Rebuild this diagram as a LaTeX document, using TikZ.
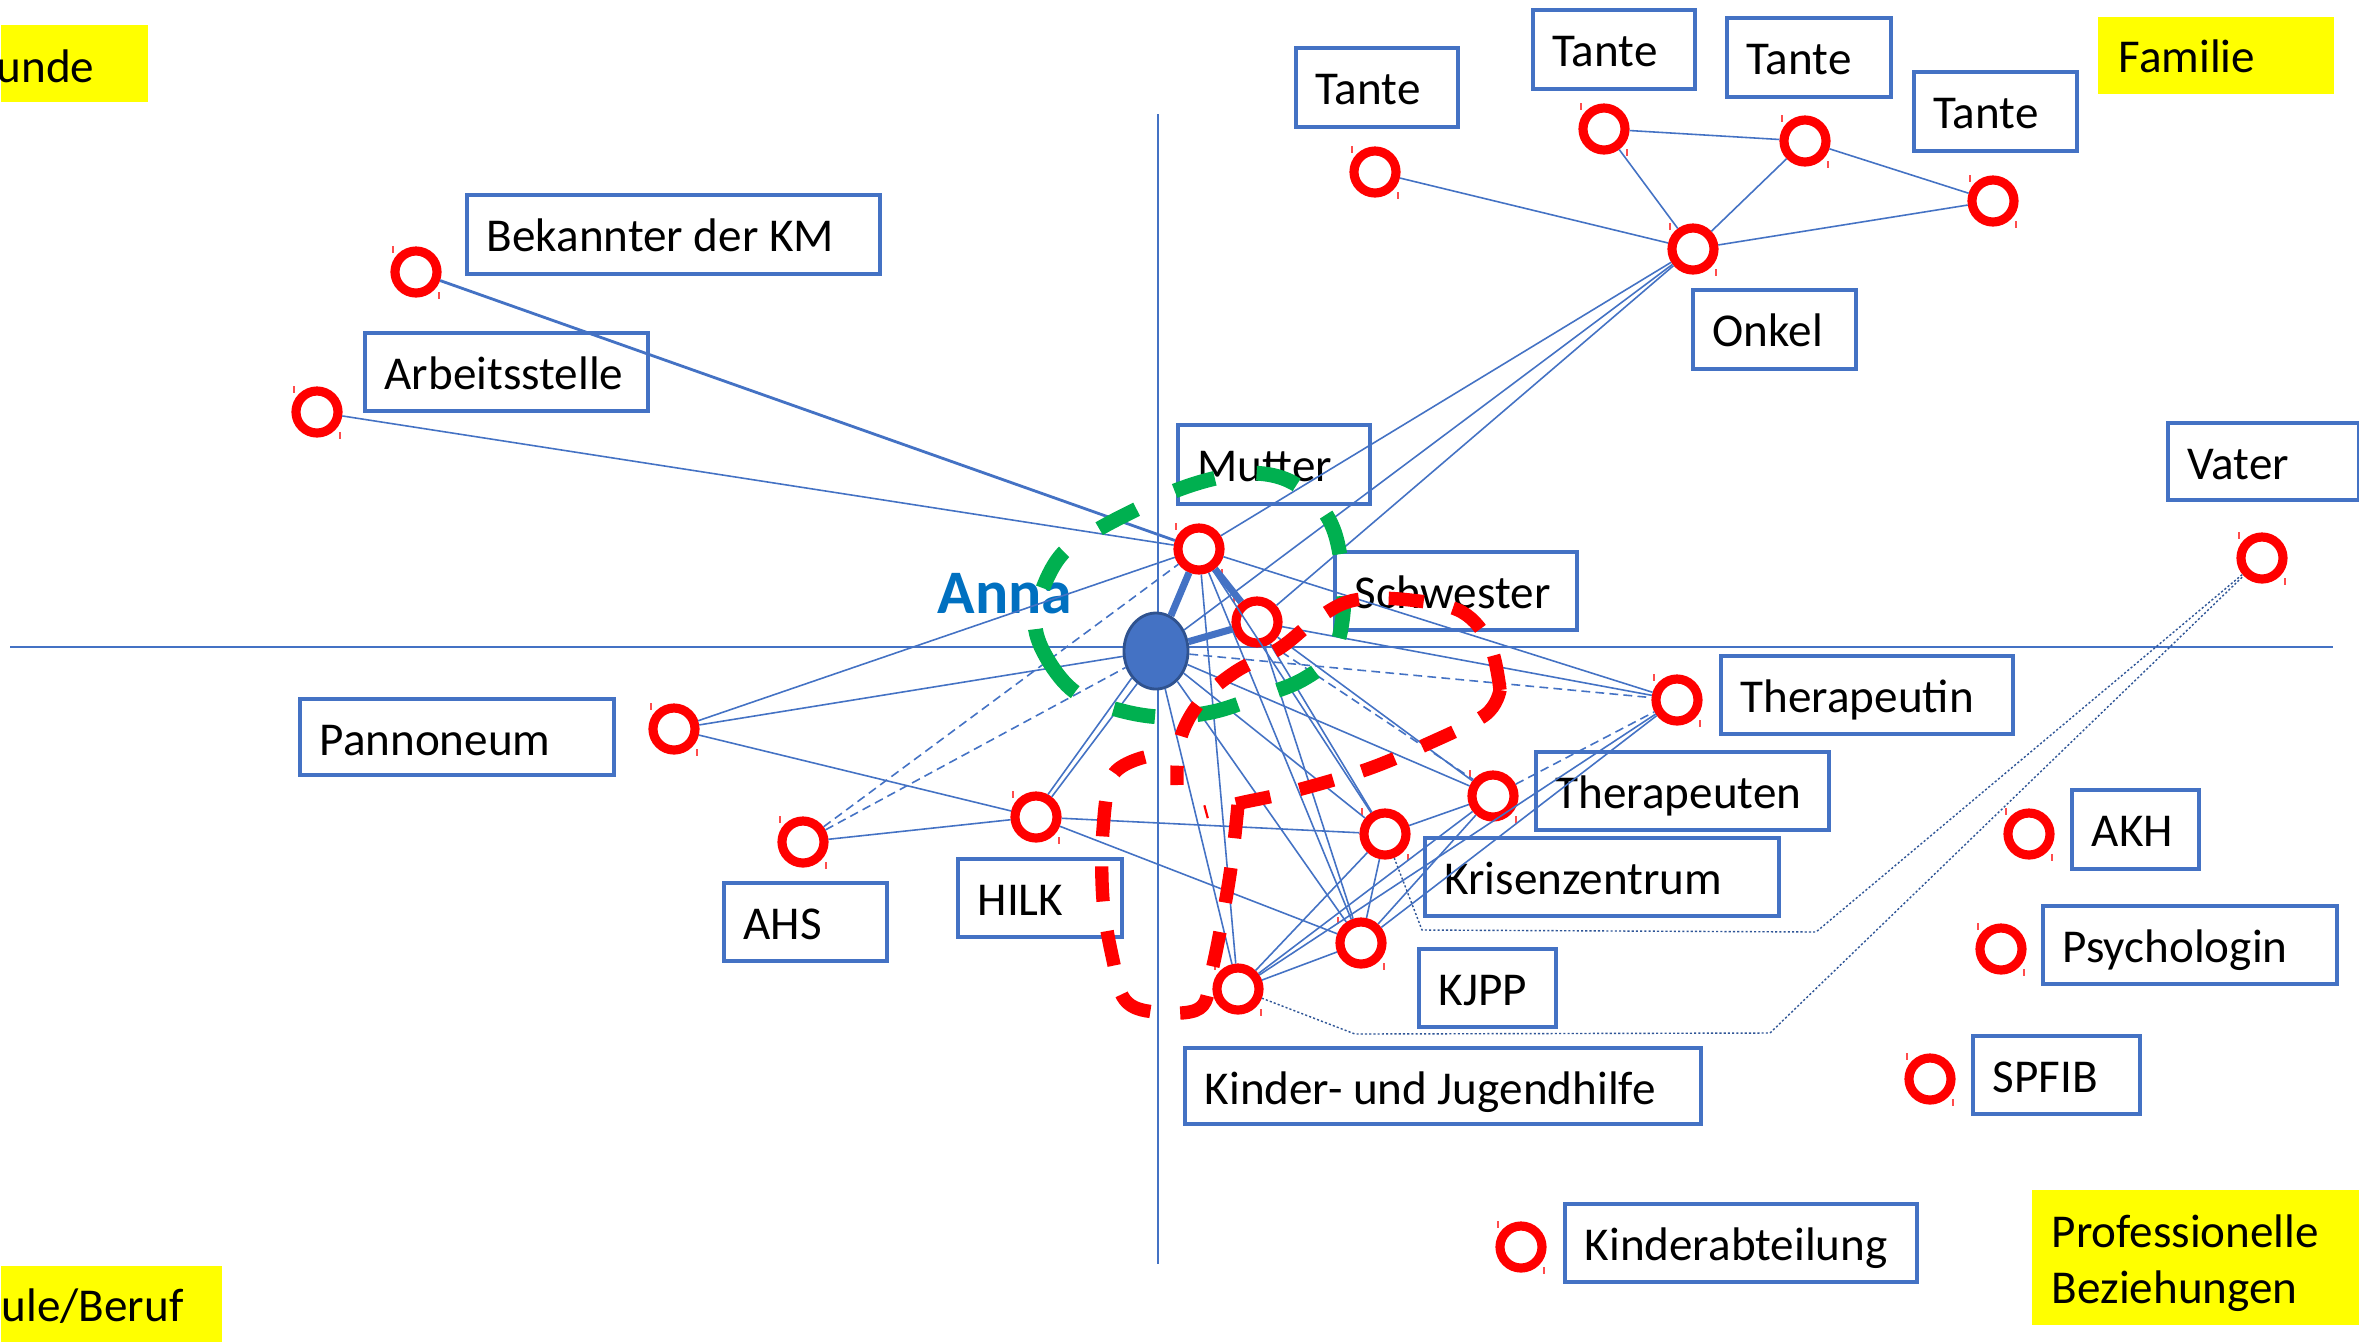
\documentclass[tikz,border=0pt]{standalone}
\usepackage{fontspec}
\setmainfont{Carlito}
\usetikzlibrary{shapes.geometric}
\definecolor{nblue}{HTML}{4472C4}
\definecolor{dblue}{HTML}{2F528F}
\definecolor{dotblue}{HTML}{2F5597}
\definecolor{annablue}{HTML}{0070C0}
\definecolor{ringred}{HTML}{FF0000}
\definecolor{loopgreen}{HTML}{00B050}
\definecolor{yel}{HTML}{FFFF00}
\newcommand{\mylbl}[6]{%
  \node[lblbox, minimum width=#4cm, minimum height=#5cm] (#1) at (#2,#3) {};
  \node[lbltext] (#1-t) at (#2+21,#3+58) {#6};}
\begin{document}
\begin{tikzpicture}[x=0.01cm,y=-0.01cm,
 lblbox/.style={draw=nblue, line width=1pt, anchor=north west, inner sep=0pt},
 lbltext/.style={anchor=base west, inner sep=0pt, font=\fontsize{13.4pt}{16pt}\selectfont},
 ybox/.style={fill=yel, anchor=north west, inner sep=0pt},
 ring/.style={circle, draw=ringred, line width=2.6pt, minimum size=0.42cm, inner sep=0pt},
 conn/.style={draw=nblue, line width=0.45pt},
 thickconn/.style={draw=nblue, line width=2pt},
 medconn/.style={draw=nblue, line width=0.8pt},
 dashconn/.style={draw=nblue, line width=0.45pt, dash pattern=on 2.5pt off 1.5pt},
 dotconn/.style={draw=dotblue, line width=0.4pt, dash pattern=on 0.6pt off 0.6pt},
 axisline/.style={draw=nblue, line width=0.45pt},
 greenloop/.style={draw=loopgreen, line width=4.2pt, dash pattern=on 12pt off 12pt},
 redloop/.style={draw=ringred, line width=3.8pt, dash pattern=on 10pt off 8.5pt},
 ringtick/.style={draw=ringred!70, line width=0.3pt}
]
\useasboundingbox (0,0) rectangle (2359,1341);
\fill[white] (0,0) rectangle (2359,1341);

% yellow corner labels
\node[ybox, minimum width=1.47cm, minimum height=0.77cm] (y-freunde) at (0,24) {};
\node[lbltext] (y-freunde-t) at (-4,82) {unde};
\node[ybox, minimum width=2.36cm, minimum height=0.77cm] (y-familie) at (2097,16) {};
\node[lbltext] (y-familie-t) at (2118,72) {Familie};
\node[ybox, minimum width=2.21cm, minimum height=0.76cm] (y-schule) at (0,1265) {};
\node[lbltext] (y-schule-t) at (1,1321) {ule/Beruf};
\node[ybox, minimum width=3.28cm, minimum height=1.35cm] (y-prof) at (2031,1189) {};
\node[lbltext] (y-prof-t1) at (2051,1247) {Professionelle};
\node[lbltext] (y-prof-t2) at (2051,1303) {Beziehungen};

% axes
\coordinate (ax-l) at (10,647);
\coordinate (ax-r) at (2333,647);
\coordinate (ax-t) at (1158,114);
\coordinate (ax-b) at (1158,1264);
\draw[axisline] (ax-l) -- (ax-r);
\draw[axisline] (ax-t) -- (ax-b);

% label boxes
\mylbl{tante1}{1294}{46}{1.62}{0.79}{Tante}
\mylbl{tante2}{1531}{8}{1.62}{0.79}{Tante}
\mylbl{tante3}{1725}{16}{1.64}{0.79}{Tante}
\mylbl{tante4}{1912}{70}{1.63}{0.79}{Tante}
\mylbl{onkel}{1691}{288}{1.63}{0.79}{Onkel}
\mylbl{bekannter}{465}{193}{4.13}{0.79}{Bekannter der KM}
\mylbl{arbeit}{363}{331}{2.83}{0.78}{Arbeitsstelle}
\mylbl{mutter}{1176}{423}{1.92}{0.79}{Mutter}
\mylbl{schwester}{1333}{550}{2.42}{0.78}{Schwester}
\mylbl{vater}{2166}{421}{1.91}{0.77}{Vater}
\mylbl{therapeutin}{1719}{654}{2.92}{0.78}{Therapeutin}
\mylbl{therapeuten}{1534}{750}{2.93}{0.78}{Therapeuten}
\mylbl{krisen}{1423}{836}{3.54}{0.78}{Krisenzentrum}
\mylbl{kjpp}{1417}{947}{1.37}{0.78}{KJPP}
\mylbl{kjh}{1183}{1046}{5.16}{0.76}{Kinder- und Jugendhilfe}
\mylbl{akh}{2070}{788}{1.27}{0.79}{AKH}
\mylbl{psych}{2041}{904}{2.94}{0.78}{Psychologin}
\mylbl{spfib}{1971}{1034}{1.67}{0.78}{SPFIB}
\mylbl{kinderabt}{1563}{1202}{3.52}{0.78}{Kinderabteilung}
\mylbl{pannoneum}{298}{697}{3.14}{0.76}{Pannoneum}
\mylbl{ahs}{722}{881}{1.63}{0.78}{AHS}
\mylbl{hilk}{956}{857}{1.64}{0.78}{HILK}

% circles
\node[ring] (c-tante1) at (1375,172) {};
\node[ring] (c-tante2) at (1604,129) {};
\node[ring] (c-tante3) at (1805,141) {};
\node[ring] (c-tante4) at (1993,201) {};
\node[ring] (c-onkel) at (1693,249) {};
\node[ring] (c-bekannter) at (416,272) {};
\node[ring] (c-arbeit) at (317,412) {};
\node[ring] (c-mutter) at (1199,549) {};
\node[ring] (c-schwester) at (1257,622) {};
\node[ring] (c-vater) at (2262,558) {};
\node[ring] (c-therapeutin) at (1677,700) {};
\node[ring] (c-therapeuten) at (1493,796) {};
\node[ring] (c-krisen) at (1385,834) {};
\node[ring] (c-kjpp) at (1361,943) {};
\node[ring] (c-kjh) at (1238,989) {};
\node[ring] (c-hilk) at (1036,817) {};
\node[ring] (c-ahs) at (803,842) {};
\node[ring] (c-pannoneum) at (674,729) {};
\node[ring] (c-akh) at (2029,834) {};
\node[ring] (c-psych) at (2001,949) {};
\node[ring] (c-spfib) at (1930,1079) {};
\node[ring] (c-kinderabt) at (1521,1247) {};
\foreach \n in {c-tante1,c-tante2,c-tante3,c-tante4,c-onkel,c-bekannter,c-arbeit,c-mutter,c-schwester,c-vater,c-therapeutin,c-therapeuten,c-krisen,c-kjpp,c-kjh,c-hilk,c-ahs,c-pannoneum,c-akh,c-psych,c-spfib,c-kinderabt}{
  \draw[ringtick] ([shift={(-23,-26)}]\n.center) -- ++(0,7);
  \draw[ringtick] ([shift={(23,20)}]\n.center) -- ++(0,7);
}

% Anna
\node[ellipse, fill=nblue, draw=dblue, line width=0.8pt, minimum width=0.64cm, minimum height=0.76cm, inner sep=0pt] (anna) at (1156,651) {};
\node[anchor=base west, inner sep=0pt, text=annablue, font=\fontsize{17.6pt}{20pt}\selectfont\bfseries] (anna-t) at (937,613) {Anna};

% family connectors
\draw[conn] (c-tante1) -- (c-onkel);
\draw[conn] (c-tante2) -- (c-onkel);
\draw[conn] (c-tante3) -- (c-onkel);
\draw[conn] (c-tante4) -- (c-onkel);
\draw[conn] (c-tante2) -- (c-tante3);
\draw[conn] (c-tante3) -- (c-tante4);
\draw[conn] (c-onkel) -- (c-mutter);
\draw[conn] (c-onkel) -- (anna);
\draw[conn] (c-onkel) -- (c-schwester);

% left side
\draw[medconn] (c-bekannter) -- (c-mutter);
\draw[conn] (c-arbeit) -- (c-mutter);
\draw[conn] (c-pannoneum) -- (c-mutter);
\draw[conn] (c-pannoneum) -- (anna);
\draw[conn] (c-pannoneum) -- (c-hilk);
\draw[conn] (c-ahs) -- (c-hilk);
\draw[dashconn] (c-ahs) -- (c-mutter);
\draw[dashconn] (c-ahs) -- (anna);
\draw[conn] (c-hilk.62) -- (anna.228);
\draw[conn] (c-hilk.52) -- (anna.240);
\draw[conn] (c-hilk) -- (c-krisen);
\draw[conn] (c-hilk) -- (c-kjpp);

% hub
\draw[thickconn] (anna) -- (c-mutter);
\draw[thickconn] (anna) -- (c-schwester);
\draw[thickconn] (c-mutter) -- (c-schwester);
\draw[conn] (c-mutter) -- (c-therapeutin);
\draw[conn] (c-schwester) -- (c-therapeutin);
\draw[dashconn] (anna) -- (c-therapeutin);
\draw[conn] (c-schwester) -- (c-therapeuten);
\draw[dashconn] (c-schwester.300) -- (c-therapeuten.140);
\draw[conn] (anna) -- (c-therapeuten);
\draw[conn] (anna) -- (c-krisen);
\draw[conn] (anna) -- (c-kjpp);
\draw[conn] (anna) -- (c-kjh);
\draw[conn] (c-mutter) -- (c-krisen);
\draw[conn] (c-mutter) -- (c-kjpp);
\draw[conn] (c-mutter) -- (c-kjh);
\draw[conn] (c-schwester) -- (c-krisen);
\draw[conn] (c-schwester) -- (c-kjpp);
\draw[conn] (c-therapeuten) -- (c-krisen);
\draw[conn] (c-therapeuten) -- (c-kjpp);
\draw[conn] (c-therapeuten) -- (c-kjh);
\draw[dashconn] (c-therapeuten) -- (c-therapeutin);
\draw[conn] (c-therapeutin) -- (c-kjpp);
\draw[conn] (c-therapeutin) -- (c-kjh);
\draw[conn] (c-krisen) -- (c-kjpp);
\draw[conn] (c-krisen) -- (c-kjh);
\draw[conn] (c-kjpp) -- (c-kjh);

% dotted elbows to Vater
\coordinate (e1a) at (1422,930);
\coordinate (e1b) at (1816,932);
\coordinate (e2a) at (1355,1034);
\coordinate (e2b) at (1770,1033);
\draw[dotconn] (c-krisen) -- (e1a) -- (e1b) -- (c-vater);
\draw[dotconn] (c-kjh) -- (e2a) -- (e2b) -- (c-vater);

% hand-drawn loops
\draw[greenloop] plot[smooth cycle, tension=0.6] coordinates {(1035,625) (1048,660) (1075,692) (1115,709) (1162,717) (1212,712) (1258,697) (1302,680) (1332,655) (1343,615) (1342,570) (1333,528) (1313,498) (1285,479) (1250,473) (1212,479) (1172,492) (1135,510) (1097,530) (1063,553) (1043,588)};
\draw[redloop] plot[smooth, tension=0.6] coordinates {(1500,690) (1490,645) (1462,612) (1410,600) (1355,600) (1318,618) (1280,648) (1235,672) (1200,702) (1180,740) (1177,785)};
\draw[redloop] plot[smooth, tension=0.6] coordinates {(1500,690) (1485,715) (1425,745) (1365,770) (1290,792) (1240,803) (1205,812)};
\draw[redloop] plot[smooth, tension=0.6] coordinates {(1145,757) (1113,775) (1103,830) (1103,900) (1113,960) (1125,1000) (1155,1012) (1200,1008) (1212,970) (1224,910) (1232,860) (1238,805)};
\end{tikzpicture}
\end{document}
